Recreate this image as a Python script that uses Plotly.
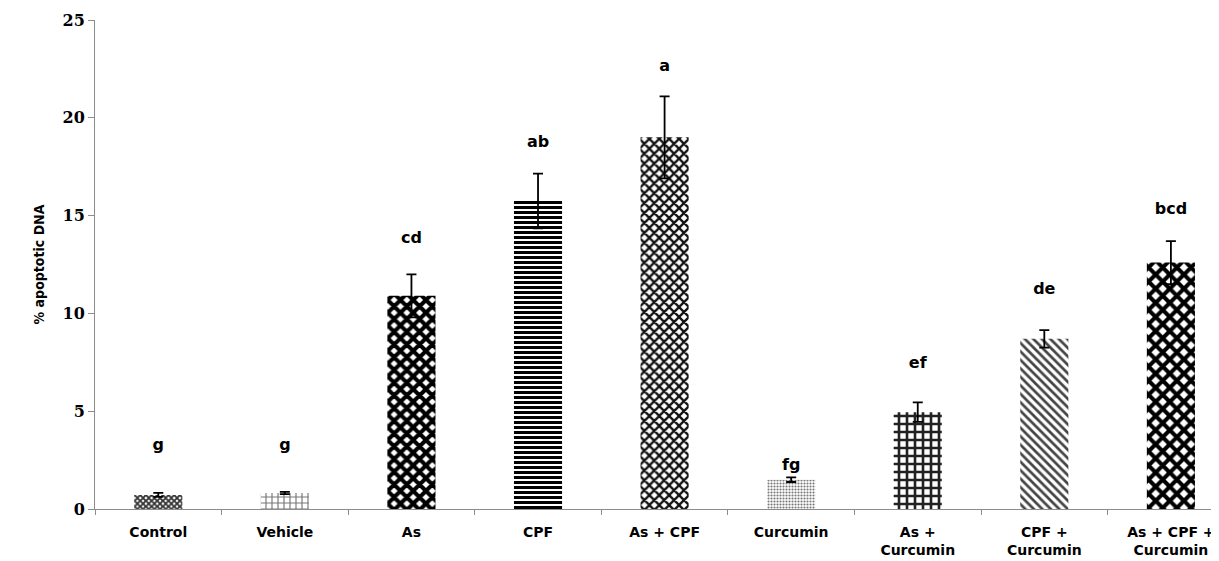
import plotly.graph_objects as go

categories = ["Control", "Vehicle", "As", "CPF", "As + CPF", "Curcumin",
              "As +<br>Curcumin", "CPF +<br>Curcumin", "As + CPF +<br>Curcumin"]
means = [0.72, 0.82, 10.9, 15.75, 19.0, 1.5, 4.95, 8.7, 12.6]
errors = [0.1, 0.06, 1.1, 1.4, 2.1, 0.12, 0.5, 0.45, 1.1]
letters = ["g", "g", "cd", "ab", "a", "fg", "ef", "de", "bcd"]
letter_y = [3.2, 3.2, 13.8, 18.7, 22.6, 2.2, 7.4, 11.2, 15.3]
y_ticks = [0, 5, 10, 15, 20, 25]

pattern_shapes = ["x", "+", "x", "-", "x", ".", "+", "\\", "x"]
pattern_fg = ["#333333", "#777777", "#000000", "#000000", "#111111",
              "#777777", "#222222", "#444444", "#000000"]
pattern_size = [4, 6, 9, 5, 7, 3, 8, 6, 10]
pattern_sol = [0.7, 0.35, 0.7, 0.6, 0.55, 0.4, 0.55, 0.45, 0.65]

fig = go.Figure()
fig.add_trace(go.Bar(
    x=categories, y=means, width=0.38,
    marker=dict(
        color="white",
        line=dict(width=0),
        pattern=dict(shape=pattern_shapes, fgcolor=pattern_fg, bgcolor="white",
                     fgopacity=1, size=pattern_size, solidity=pattern_sol,
                     fillmode="overlay"),
    ),
    error_y=dict(type="data", array=errors, color="black", thickness=1.8, width=5),
    showlegend=False,
))

fig.add_trace(go.Scatter(
    x=categories, y=letter_y, mode="text", text=letters,
    textfont=dict(family="DejaVu Sans", size=16, color="black", weight="bold"),
    showlegend=False, hoverinfo="skip",
))

fig.update_layout(
    width=1219, height=561,
    margin=dict(l=87, r=8, t=12, b=60, autoexpand=False),
    plot_bgcolor="white", paper_bgcolor="white",
    bargap=0.62,
)
fig.update_xaxes(
    range=[-0.5, 8.38], showline=True, linecolor="#8c8c8c", linewidth=1,
    ticks="outside", tickson="boundaries", ticklen=5, tickcolor="#8c8c8c",
    ticklabelstandoff=10,
    tickfont=dict(family="DejaVu Sans", size=14, color="black", weight="bold"),
    showgrid=False, automargin=False,
)
fig.update_yaxes(
    range=[0, 25], tickvals=y_ticks, showline=True, linecolor="#8c8c8c", linewidth=1,
    ticks="outside", ticklen=6, tickcolor="#8c8c8c",
    tickfont=dict(family="DejaVu Serif", size=16, color="black", weight="bold"),
    title=dict(text="% apoptotic DNA",
               font=dict(family="DejaVu Sans Condensed, Liberation Sans, sans-serif",
                         size=14, color="black", weight="bold"),
               standoff=14),
    showgrid=False, zeroline=False, automargin=False,
)

fig.write_html("out.html")
